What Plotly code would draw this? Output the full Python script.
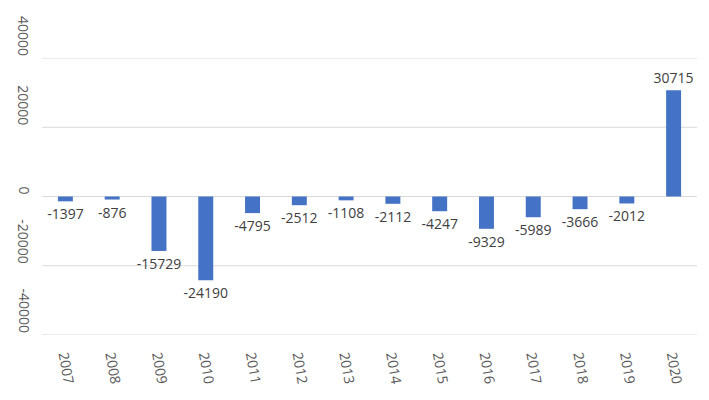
import plotly.graph_objects as go

years = ["2007", "2008", "2009", "2010", "2011", "2012", "2013", "2014",
         "2015", "2016", "2017", "2018", "2019", "2020"]
values = [-1397, -876, -15729, -24190, -4795, -2512, -1108, -2112,
          -4247, -9329, -5989, -3666, -2012, 30715]
y_ticks = [-40000, -20000, 0, 20000, 40000]

FONT = "Open Sans, Liberation Sans, sans-serif"

fig = go.Figure(go.Bar(
    x=years, y=values,
    marker=dict(color="#4472C4", line=dict(width=0)),
    text=[str(v) for v in values],
    textposition="outside",
    constraintext="none",
    textfont=dict(family=FONT, size=14, color="#404040"),
    cliponaxis=False,
))

for t in y_ticks:
    fig.add_annotation(
        xref="paper", yref="y", x=0, y=t, xshift=-18,
        text=str(t), textangle=90, showarrow=False,
        xanchor="center", yanchor="bottom",
        font=dict(family=FONT, size=14, color="#595959"),
    )
    fig.add_shape(
        type="line", xref="paper", yref="y", x0=0, x1=1, y0=t, y1=t,
        line=dict(color="#D9D9D9", width=1), layer="below",
    )

fig.update_layout(
    width=709, height=400,
    margin=dict(l=42, r=12, t=58, b=65),
    paper_bgcolor="white", plot_bgcolor="white",
    bargap=0.68,
    showlegend=False,
    font=dict(family=FONT, color="#595959"),
)
fig.update_xaxes(
    type="category", tickangle=80, showgrid=False, showline=False,
    ticks="", tickfont=dict(size=14, color="#595959"), ticklabelstandoff=9,
)
fig.update_yaxes(
    range=[-40000, 40000], tickvals=y_ticks, showticklabels=False,
    showgrid=False, zeroline=False, showline=False, ticks="",
)

fig.write_html("out.html")
